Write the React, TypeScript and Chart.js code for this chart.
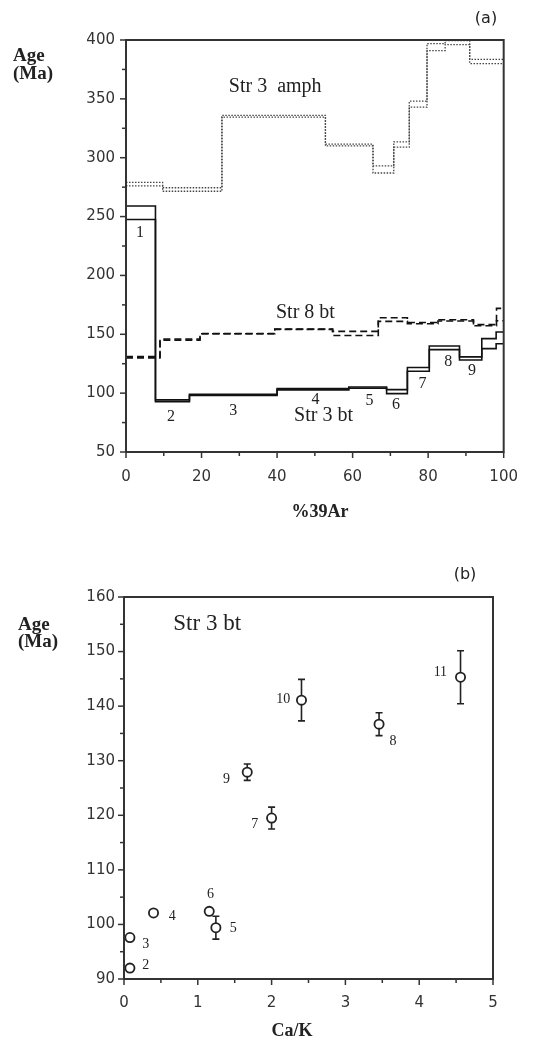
import React, { useEffect, useRef } from 'react';
import { Chart, registerables } from 'chart.js';
Chart.register(...registerables);

// ---------- Chart (a): age spectra ----------
const amphBounds = [0, 9.7, 25.4, 52.8, 65.4, 70.9, 75, 79.7, 84.5, 91, 100];
const amphUpper = [279, 274.5, 336, 311.5, 293, 313.5, 348, 397, 399.5, 383.5];
const amphLower = [276, 271.5, 334.5, 310, 287, 309, 343, 391, 396, 380];

const str3Bounds = [0, 7.8, 16.8, 40, 59, 69, 74.5, 80.3, 88.3, 94.2, 98, 100];
const str3Upper = [259, 94.3, 99, 103.8, 105.2, 103, 121.8, 140, 130.8, 146.3, 152];
const str3Lower = [247.5, 92.8, 98, 102.8, 104.2, 99.6, 118.6, 137, 128.2, 137.8, 142];

const str8Bounds = [0, 9.0, 19.6, 39.4, 54.7, 66.8, 74.5, 82.6, 92, 98.1, 100];
const str8Upper = [131, 146, 150.6, 154.4, 152.5, 164, 160, 162.3, 158.2, 172];
const str8Lower = [130, 145, 150.4, 154.2, 149, 161, 159, 161.3, 157.2, 161.5];

const aXTicks = [0, 20, 40, 60, 80, 100];
const aYTicks = [50, 100, 150, 200, 250, 300, 350, 400];

const aLabelTexts = ['Str 3  amph', 'Str 8 bt', 'Str 3 bt', '1', '2', '3', '4', '5', '6', '7', '8', '9'];
const aLabelX = [39.5, 47.5, 52.3, 3.7, 11.9, 28.4, 50.2, 64.5, 71.5, 78.5, 85.3, 91.6];
const aLabelY = [360, 168.5, 80.8, 235.8, 80, 85, 94.6, 93.2, 89.8, 108, 126.5, 118.8];

// ---------- Chart (b): age vs Ca/K ----------
const bStepNames = ['2', '3', '4', '5', '6', '7', '8', '9', '10', '11'];
const bCaK = [0.08, 0.08, 0.40, 1.245, 1.155, 2.0, 3.456, 1.67, 2.405, 4.56];
const bAge = [92.0, 97.6, 102.1, 99.4, 102.4, 119.5, 136.7, 127.9, 141.1, 145.3];
const bErr = [0, 0, 0, 2.1, 0, 2.0, 2.1, 1.5, 3.8, 4.85];
const bLabelX = [0.294, 0.294, 0.654, 1.48, 1.173, 1.773, 3.646, 1.39, 2.157, 4.287];
const bLabelY = [92.5, 96.3, 101.4, 99.2, 105.5, 118.3, 133.5, 126.6, 141.3, 146.2];

const bXTicks = [0, 1, 2, 3, 4, 5];
const bYTicks = [90, 100, 110, 120, 130, 140, 150, 160];

const SERIF = '"Liberation Serif", "Times New Roman", serif';
const SANS = '"DejaVu Sans", sans-serif';
const INK = '#222';

function stepPoints(bounds: number[], vals: number[]) {
  const pts = vals.map((v, i) => ({ x: bounds[i], y: v }));
  pts.push({ x: bounds[bounds.length - 1], y: vals[vals.length - 1] });
  return pts;
}

type TextItem = { text: string; x: number; y: number; font: string; align?: CanvasTextAlign; data?: boolean };

const framePlugin = {
  id: 'frame',
  afterDatasetsDraw(chart: any, _args: any, opts: any) {
    const { ctx, chartArea: a, scales } = chart;
    const xs = scales.x;
    const ys = scales.y;
    ctx.save();
    ctx.strokeStyle = '#333';
    ctx.lineWidth = 1.5;
    const n1 = Math.round((xs.max - xs.min) / opts.xMinor);
    for (let i = 0; i <= n1; i++) {
      const v = xs.min + i * opts.xMinor;
      const major = Math.abs(v / opts.xMajor - Math.round(v / opts.xMajor)) < 1e-6;
      const px = xs.getPixelForValue(v);
      ctx.beginPath();
      ctx.moveTo(px, a.bottom);
      ctx.lineTo(px, a.bottom + (major ? 6 : 4));
      ctx.stroke();
    }
    const n2 = Math.round((ys.max - ys.min) / opts.yMinor);
    for (let i = 0; i <= n2; i++) {
      const v = ys.min + i * opts.yMinor;
      const major = Math.abs(v / opts.yMajor - Math.round(v / opts.yMajor)) < 1e-6;
      const py = ys.getPixelForValue(v);
      ctx.beginPath();
      ctx.moveTo(a.left, py);
      ctx.lineTo(a.left - (major ? 6 : 4), py);
      ctx.stroke();
    }
    ctx.lineWidth = 2;
    ctx.strokeRect(a.left, a.top, a.right - a.left, a.bottom - a.top);
    ctx.fillStyle = INK;
    ctx.textBaseline = 'middle';
    for (const t of opts.texts as TextItem[]) {
      ctx.font = t.font;
      ctx.textAlign = t.align || 'center';
      const px = t.data ? xs.getPixelForValue(t.x) : t.x;
      const py = t.data ? ys.getPixelForValue(t.y) : t.y;
      ctx.fillText(t.text, px, py);
    }
    ctx.restore();
  },
};

const errPlugin = {
  id: 'errbars',
  beforeDatasetsDraw(chart: any, _args: any, opts: any) {
    if (!opts || !opts.err) return;
    const { ctx, scales } = chart;
    ctx.save();
    ctx.strokeStyle = INK;
    ctx.lineWidth = 1.6;
    opts.err.forEach((e: number, i: number) => {
      if (!e) return;
      const px = scales.x.getPixelForValue(opts.xs[i]);
      const y1 = scales.y.getPixelForValue(opts.ys[i] + e);
      const y2 = scales.y.getPixelForValue(opts.ys[i] - e);
      ctx.beginPath();
      ctx.moveTo(px, y1);
      ctx.lineTo(px, y2);
      ctx.moveTo(px - 3.5, y1);
      ctx.lineTo(px + 3.5, y1);
      ctx.moveTo(px - 3.5, y2);
      ctx.lineTo(px + 3.5, y2);
      ctx.stroke();
    });
    ctx.restore();
  },
};

function axisCommon(min: number, max: number, ticks: number[], pad: number, axisSize: number, isY: boolean) {
  return {
    type: 'linear',
    min,
    max,
    grid: { display: false, drawTicks: false },
    border: { display: false },
    afterBuildTicks: (scale: any) => {
      scale.ticks = ticks.map((v) => ({ value: v }));
    },
    afterFit: (scale: any) => {
      if (isY) scale.width = axisSize;
      else scale.height = axisSize;
    },
    ticks: {
      padding: pad,
      color: '#333',
      font: { family: SANS, size: 15 },
      maxRotation: 0,
      autoSkip: false,
    },
  };
}

export default function App() {
  const refA = useRef<HTMLCanvasElement>(null);
  const refB = useRef<HTMLCanvasElement>(null);

  useEffect(() => {
    const aTexts: TextItem[] = [
      { text: 'Age', x: 13, y: 56, font: `bold 19px ${SERIF}`, align: 'left' },
      { text: '(Ma)', x: 13, y: 74, font: `bold 19px ${SERIF}`, align: 'left' },
      { text: '(a)', x: 486, y: 19, font: `16px ${SANS}` },
      { text: '%39Ar', x: 320, y: 512, font: `bold 18px ${SERIF}` },
      ...aLabelTexts.map((t, i) => ({
        text: t,
        x: aLabelX[i],
        y: aLabelY[i],
        font: i < 3 ? `20px ${SERIF}` : `16px ${SERIF}`,
        data: true,
      })),
    ];

    const chartA = new Chart(refA.current as HTMLCanvasElement, {
      type: 'scatter',
      data: {
        datasets: [
          { data: stepPoints(amphBounds, amphUpper), borderColor: '#444', borderWidth: 1.3, borderDash: [1.5, 1.5] },
          { data: stepPoints(amphBounds, amphLower), borderColor: '#444', borderWidth: 1.3, borderDash: [1.5, 1.5] },
          { data: stepPoints(str8Bounds, str8Upper), borderColor: '#111', borderWidth: 1.6, borderDash: [7, 4] },
          { data: stepPoints(str8Bounds, str8Lower), borderColor: '#111', borderWidth: 1.6, borderDash: [7, 4] },
          { data: stepPoints(str3Bounds, str3Upper), borderColor: '#111', borderWidth: 1.6 },
          { data: stepPoints(str3Bounds, str3Lower), borderColor: '#111', borderWidth: 1.6 },
        ].map((d) => ({ ...d, showLine: true, stepped: true, pointRadius: 0, fill: false })) as any,
      },
      options: {
        animation: false,
        responsive: false,
        events: [],
        layout: { padding: { left: 0, top: 40, right: 25, bottom: 0 } },
        plugins: {
          legend: { display: false },
          tooltip: { enabled: false },
          frame: { xMinor: 10, xMajor: 20, yMinor: 25, yMajor: 50, texts: aTexts },
        } as any,
        scales: {
          x: axisCommon(0, 100, aXTicks, 16, 545 - 452, false) as any,
          y: axisCommon(50, 400, aYTicks, 11, 126, true) as any,
        },
      },
      plugins: [framePlugin],
    });

    const bTexts: TextItem[] = [
      { text: 'Age', x: 18, y: 80, font: `bold 19px ${SERIF}`, align: 'left' },
      { text: '(Ma)', x: 18, y: 97, font: `bold 19px ${SERIF}`, align: 'left' },
      { text: '(b)', x: 465, y: 30, font: `16px ${SANS}` },
      { text: 'Ca/K', x: 292, y: 486, font: `bold 18px ${SERIF}` },
      { text: 'Str 3 bt', x: 0.668, y: 155, font: `23px ${SERIF}`, align: 'left', data: true },
      ...bStepNames.map((t, i) => ({
        text: t,
        x: bLabelX[i],
        y: bLabelY[i],
        font: `14px ${SERIF}`,
        data: true,
      })),
    ];

    const chartB = new Chart(refB.current as HTMLCanvasElement, {
      type: 'scatter',
      data: {
        datasets: [
          {
            data: bCaK.map((x, i) => ({ x, y: bAge[i] })),
            pointRadius: 4.6,
            pointBackgroundColor: '#fff',
            pointBorderColor: INK,
            pointBorderWidth: 1.8,
            showLine: false,
          } as any,
        ],
      },
      options: {
        animation: false,
        responsive: false,
        events: [],
        layout: { padding: { left: 0, top: 52, right: 41, bottom: 0 } },
        plugins: {
          legend: { display: false },
          tooltip: { enabled: false },
          frame: { xMinor: 0.5, xMajor: 1, yMinor: 5, yMajor: 10, texts: bTexts },
          errbars: { err: bErr, xs: bCaK, ys: bAge },
        } as any,
        scales: {
          x: axisCommon(0, 5, bXTicks, 15, 496 - 434, false) as any,
          y: axisCommon(90, 160, bYTicks, 9, 124, true) as any,
        },
      },
      plugins: [errPlugin, framePlugin],
    });

    return () => {
      chartA.destroy();
      chartB.destroy();
    };
  }, []);

  return (
    <div style={{ position: 'absolute', left: 0, top: 0, width: 534, height: 1041, background: '#fff' }}>
      <canvas ref={refA} width={534} height={545} style={{ position: 'absolute', left: 0, top: 0, display: 'block' }} />
      <canvas ref={refB} width={534} height={496} style={{ position: 'absolute', left: 0, top: 545, display: 'block' }} />
    </div>
  );
}
